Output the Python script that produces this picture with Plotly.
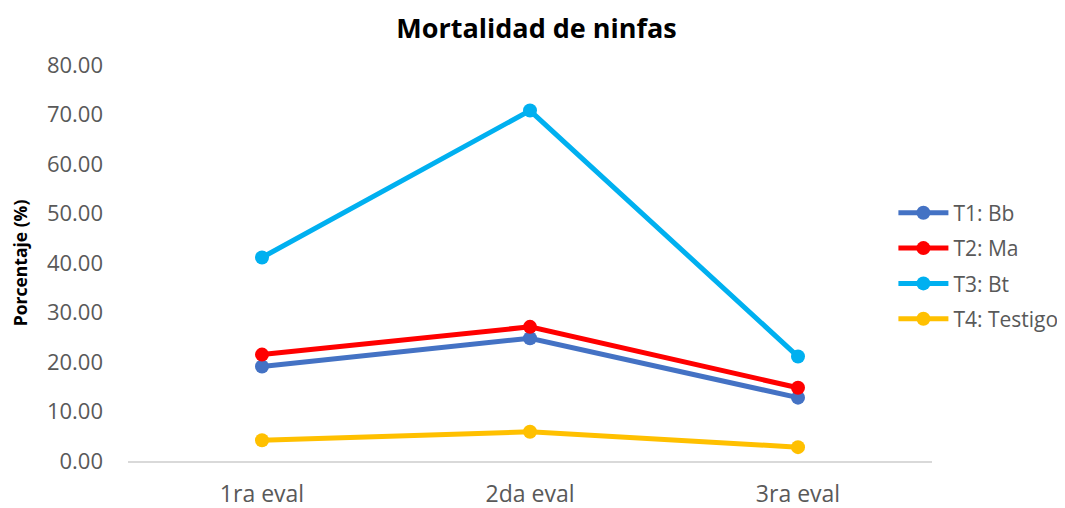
import plotly.graph_objects as go

evaluaciones = ["1ra eval", "2da eval", "3ra eval"]
series_names = ["T1: Bb", "T2: Ma", "T3: Bt", "T4: Testigo"]
t1_bb = [19.1, 24.8, 12.8]
t2_ma = [21.5, 27.1, 14.8]
t3_bt = [41.1, 70.8, 21.1]
t4_testigo = [4.2, 5.9, 2.8]
y_ticks = [0, 10, 20, 30, 40, 50, 60, 70, 80]

colors = ["#4472C4", "#FF0000", "#00B0F0", "#FFC000"]
FONT = "Open Sans"

fig = go.Figure()
for name, vals, color in zip(series_names, [t1_bb, t2_ma, t3_bt, t4_testigo], colors):
    fig.add_trace(
        go.Scatter(
            x=evaluaciones,
            y=vals,
            mode="lines+markers",
            name=name,
            legendgroup=name,
            line=dict(color=color, width=5),
            marker=dict(color=color, size=14),
        )
    )

# page body has an 8px margin, so the figure is sized to fit the window
fig.update_layout(
    width=1057,
    height=500,
    paper_bgcolor="white",
    plot_bgcolor="white",
    font=dict(family=FONT, color="#595959"),
    margin=dict(l=120, r=133, t=57, b=47, autoexpand=False),
    title=dict(
        text="<b>Mortalidad de ninfas</b>",
        x=0.5,
        xanchor="center",
        y=0.958,
        yanchor="middle",
        font=dict(size=27, color="black", family=FONT),
    ),
    legend=dict(
        x=0.952,
        y=0.492,
        xanchor="left",
        yanchor="middle",
        font=dict(size=21, color="#595959"),
        tracegroupgap=5,
        itemwidth=50,
        bgcolor="rgba(0,0,0,0)",
    ),
    xaxis=dict(
        range=[-0.5, 2.5],
        showgrid=False,
        showline=True,
        linecolor="#D9D9D9",
        linewidth=1.5,
        tickfont=dict(size=23, color="#595959"),
        ticks="",
        ticklabelstandoff=12,
        automargin=False,
    ),
    yaxis=dict(
        range=[0, 80],
        tickvals=y_ticks,
        tickformat=".2f",
        showgrid=False,
        zeroline=False,
        showline=False,
        tickfont=dict(size=22, color="#595959"),
        ticklabelstandoff=24,
        automargin=False,
        title=dict(
            text="<b>Porcentaje (%)</b>",
            font=dict(size=17.5, color="black"),
            standoff=30,
        ),
    ),
)

fig.write_html("out.html")
